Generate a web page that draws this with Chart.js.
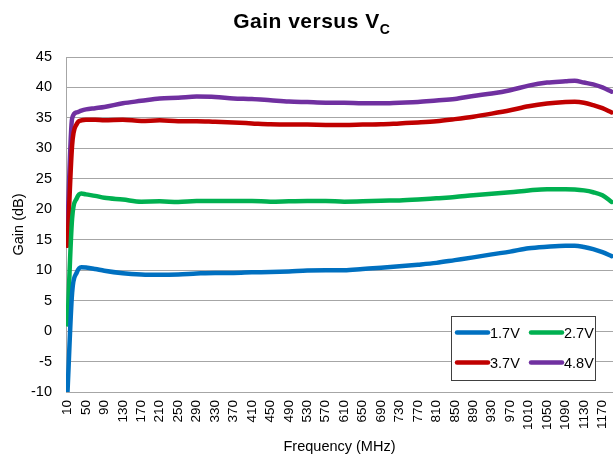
<!DOCTYPE html>
<html>
<head>
<meta charset="utf-8">
<script src="https://cdn.jsdelivr.net/npm/chart.js@4/dist/chart.umd.min.js"></script>
<style>
html,body{margin:0;padding:0;background:#fff;}
#wrap{position:relative;width:613px;height:460px;overflow:hidden;}
canvas{position:absolute;left:0;top:0;}
#title{position:absolute;left:0;top:9px;width:613px;padding-left:10px;box-sizing:border-box;text-align:center;
  font:bold 21px "Liberation Sans",Arial,sans-serif;line-height:24px;letter-spacing:0.5px;color:#000;}
#title sub{font-size:14px;line-height:0;vertical-align:-6px;letter-spacing:0;}
</style>
</head>
<body>
<div id="wrap">
  <canvas id="c" width="613" height="460"></canvas>
  <div id="title">Gain versus V<sub>C</sub></div>
</div>
<script>
// ---- data ----
const freqMHz = [10, 20, 30, 40, 50, 70, 90,
  130, 170, 210, 250, 290, 330, 370, 410, 450, 490, 530, 570, 610, 650, 690, 730, 770, 810, 850, 890, 930, 970, 1010, 1050, 1090,
  1110, 1130, 1150, 1170, 1190];

const gain17V = [-10, 6.3, 9.6, 10.5, 10.45, 10.2, 9.9,
  9.5, 9.3, 9.25, 9.3, 9.45, 9.55, 9.55, 9.65, 9.7, 9.8, 9.95, 10.0, 10.0, 10.2, 10.4, 10.65, 10.9, 11.2, 11.65, 12.1, 12.6, 13.05, 13.6, 13.85, 14.0,
  14.0, 13.8, 13.45, 12.95, 12.3];

const gain27V = [1.1, 18.5, 21.8, 22.6, 22.45, 22.2, 21.9,
  21.6, 21.25, 21.3, 21.2, 21.35, 21.35, 21.35, 21.35, 21.25, 21.3, 21.35, 21.35, 21.25, 21.3, 21.4, 21.45, 21.6, 21.8, 22.0, 22.3, 22.55, 22.8, 23.1, 23.3, 23.3,
  23.25, 23.1, 22.8, 22.3, 21.2];

const gain37V = [14.0, 30.5, 34.0, 34.6, 34.7, 34.7, 34.6,
  34.7, 34.5, 34.6, 34.45, 34.45, 34.35, 34.25, 34.1, 33.95, 33.9, 33.9, 33.85, 33.85, 33.9, 33.95, 34.1, 34.25, 34.45, 34.8, 35.2, 35.7, 36.25, 36.9, 37.35, 37.6,
  37.65, 37.5, 37.1, 36.6, 35.9];

const gain48V = [17.4, 34.9, 35.9, 36.2, 36.4, 36.6, 36.8,
  37.4, 37.8, 38.2, 38.3, 38.5, 38.45, 38.2, 38.1, 37.9, 37.7, 37.6, 37.5, 37.5, 37.4, 37.4, 37.5, 37.6, 37.85, 38.1, 38.6, 39.0, 39.55, 40.3, 40.8, 41.0,
  41.1, 40.8, 40.5, 40.0, 39.3];

const seriesNames = ['1.7V', '2.7V', '3.7V', '4.8V'];
const seriesColors = ['#0070C0', '#00B050', '#C00000', '#7030A0'];

const xTickLabels = [10, 50, 90, 130, 170, 210, 250, 290, 330, 370, 410, 450, 490, 530, 570, 610,
  650, 690, 730, 770, 810, 850, 890, 930, 970, 1010, 1050, 1090, 1130, 1170];
const yTickMin = -10, yTickMax = 45, yTickStep = 5;

// ---- chart ----
Chart.defaults.font.family = '"Liberation Sans", Arial, sans-serif';
Chart.defaults.color = '#000';

const allSeries = [gain17V, gain27V, gain37V, gain48V];
const datasets = allSeries.map((vals, i) => ({
  label: seriesNames[i],
  data: freqMHz.map((f, k) => ({x: f, y: vals[k]})),
  borderColor: seriesColors[i],
  backgroundColor: seriesColors[i],
  fill: false
}));

const legendBox = {
  id: 'legendBox',
  afterDraw(chart) {
    const ctx = chart.ctx, a = chart.chartArea;
    const w = 144, h = 64;
    const x = a.right - 18 - w, y = a.bottom - 12 - h;
    ctx.save();
    ctx.fillStyle = '#fff';
    ctx.fillRect(x, y, w, h);
    ctx.strokeStyle = '#404040';
    ctx.lineWidth = 1;
    ctx.strokeRect(Math.round(x) + 0.5, Math.round(y) + 0.5, w, h);
    ctx.font = '14.5px "Liberation Sans", Arial, sans-serif';
    ctx.textBaseline = 'middle';
    ctx.textAlign = 'left';
    chart.data.datasets.forEach((ds, i) => {
      const col = i % 2, row = Math.floor(i / 2);
      const lx = x + 6 + col * 74, ly = y + 16.5 + row * 30;
      ctx.strokeStyle = ds.borderColor;
      ctx.lineWidth = 4.5;
      ctx.lineCap = 'round';
      ctx.beginPath();
      ctx.moveTo(lx, ly);
      ctx.lineTo(lx + 31, ly);
      ctx.stroke();
      ctx.fillStyle = '#000';
      ctx.fillText(ds.label, lx + 33, ly + 1);
    });
    ctx.restore();
  }
};

new Chart(document.getElementById('c'), {
  type: 'line',
  data: {datasets},
  plugins: [legendBox],
  options: {
    responsive: false,
    animation: false,
    layout: {padding: {top: 57, left: 0, right: 0, bottom: 0}},
    plugins: {legend: {display: false}, title: {display: false}, tooltip: {enabled: false}},
    elements: {
      point: {radius: 0},
      line: {borderWidth: 4.5, cubicInterpolationMode: 'monotone', borderCapStyle: 'round', borderJoinStyle: 'round'}
    },
    scales: {
      x: {
        type: 'linear',
        min: 6.75,
        max: 1193,
        afterBuildTicks: s => { s.ticks = xTickLabels.map(v => ({value: v})); },
        afterFit: s => { s.height = 68; s.paddingLeft = 0; s.paddingRight = 0; },
        ticks: {autoSkip: false, maxRotation: 90, minRotation: 90, padding: 8,
                font: {size: 13.5}, color: '#000', callback: v => String(v)},
        grid: {display: false, drawTicks: false},
        border: {display: true, color: '#a6a6a6', width: 1},
        title: {display: true, text: 'Frequency (MHz)', font: {size: 14.5}, color: '#000', padding: {top: 0, bottom: 4}}
      },
      y: {
        min: yTickMin,
        max: yTickMax,
        afterFit: s => { s.width = 66; s.paddingTop = 0; s.paddingBottom = 0; },
        ticks: {stepSize: yTickStep, padding: 14, font: {size: 14.5}, color: '#000', callback: v => String(v)},
        grid: {color: '#a6a6a6', lineWidth: 1, drawTicks: false},
        border: {display: true, color: '#a6a6a6', width: 1},
        title: {display: true, text: 'Gain (dB)', font: {size: 14.5}, color: '#000', padding: {top: 10, bottom: 0}}
      }
    }
  }
});
</script>
</body>
</html>
